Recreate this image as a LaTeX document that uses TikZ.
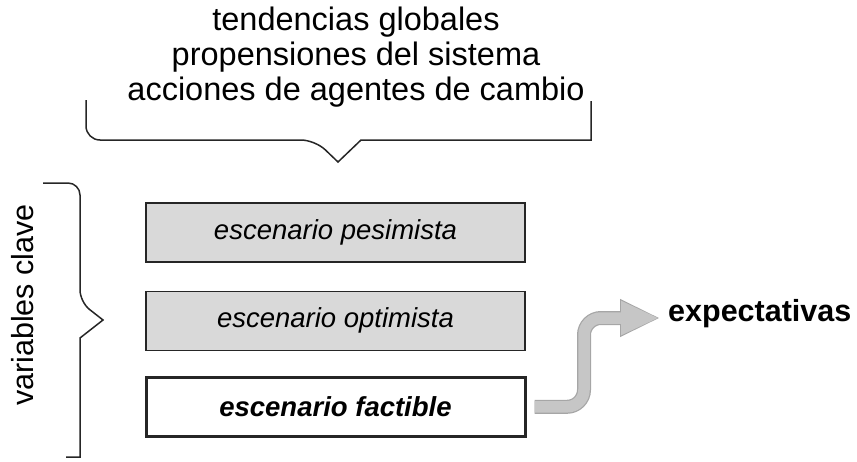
\documentclass[tikz,border=0pt]{standalone}
\usepackage{fontspec}
\setmainfont{Liberation Sans}
\usetikzlibrary{positioning,arrows.meta}

\tikzset{
  scenario/.style={draw=black!85, line width=1.2pt, fill=gray!30,
    minimum width=379pt, minimum height=59pt, inner sep=0pt,
    font=\fontsize{27.5}{30}\selectfont\itshape},
  brace/.style={line width=1.5pt, draw=black!85},
  flowline/.style={rounded corners=17pt, shorten <=8pt}
}

\begin{document}
\begin{tikzpicture}[x=1pt, y=-1pt]
  \useasboundingbox (0,0) rectangle (857,461);
  % Drivers above the scenarios
  \node[align=center, font=\fontsize{32.5}{35}\selectfont] (drivers) at (356,57)
    {tendencias globales\\propensiones del sistema\\acciones de agentes de cambio};
  \draw[brace] (86,100) [rounded corners=14pt] -- (86,140) -- (315,140)
    [sharp corners] -- (338,162) -- (361,140) -- (591,140)
    [rounded corners=14pt] -- (591,101);
  % Scenarios
  \node[scenario] (pesimista) at (335.5,232.5) {escenario pesimista};
  \node[scenario, below=28pt of pesimista] (optimista) {escenario optimista};
  \node[scenario, below=25pt of optimista, fill=white, line width=3pt,
    font=\fontsize{27.5}{30}\selectfont\bfseries\itshape] (factible) {escenario factible};
  % Key variables
  \draw[brace] (43,183) [rounded corners=12pt] -- (80,183) -- (80,302)
    [sharp corners] -- (103,320) -- (80,338) -- (80,457)
    [rounded corners=12pt] -- (66,457);
  \node[rotate=90, anchor=base, font=\fontsize{30.5}{32}\selectfont] (claves) at (34,305)
    {variables clave};
  % Outcome
  \node[anchor=west, inner sep=0pt, font=\fontsize{30.5}{34}\selectfont\bfseries]
    (expect) at (668,314) {expectativas};
  \coordinate (bend) at (584,360);
  \draw[flowline, line width=14pt, gray!70, -{Triangle[length=40pt, width=35pt]}]
    (factible.east) -| (bend) |- ([xshift=-8pt, yshift=-4pt]expect.west);
  \draw[flowline, line width=11.5pt, gray!45, -{Triangle[length=38pt, width=31.5pt]}]
    (factible.east) -| (bend) |- ([xshift=-9pt, yshift=-4pt]expect.west);
\end{tikzpicture}
\end{document}
